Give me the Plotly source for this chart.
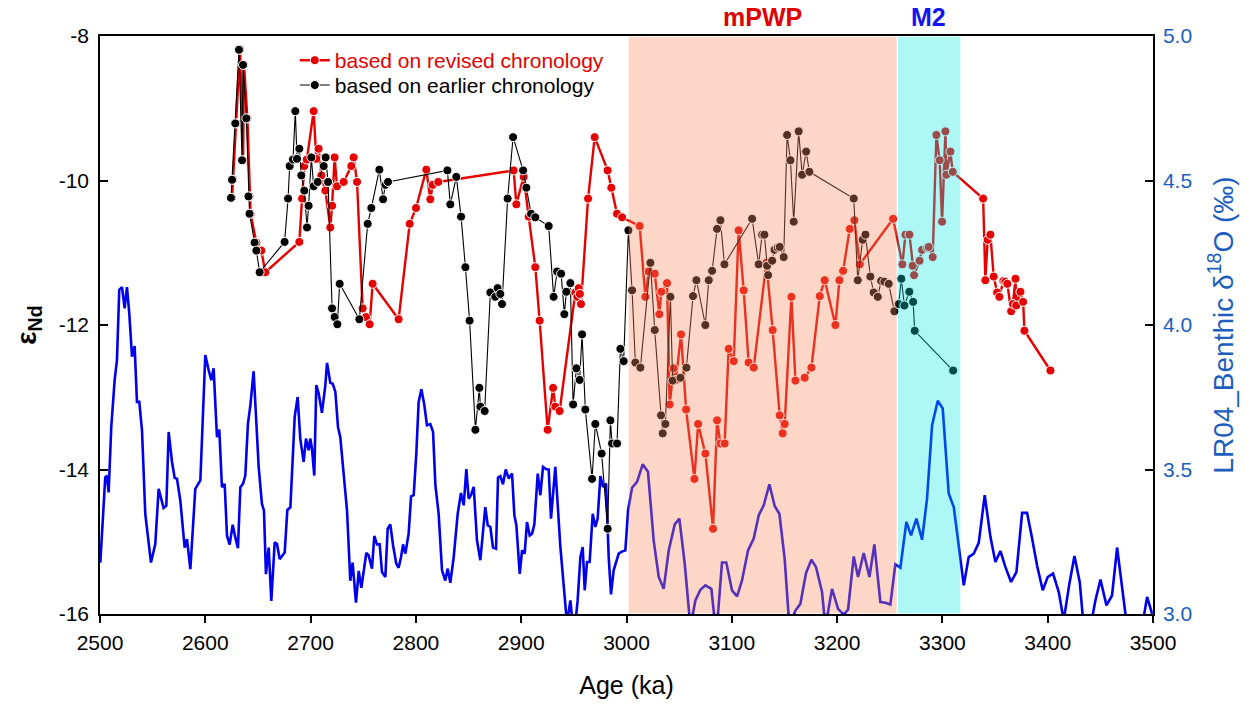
import plotly.graph_objects as go

# ---------------- data ----------------
# eNd values (same samples on two age models)
eps_nd = [
    -10.24, -9.99, -9.21, -8.19, -9.72, -8.40, -9.14, -10.22, -10.46, -10.86,
    -10.97, -11.27, -10.85, -10.25, -9.80, -9.71, -9.04, -9.70, -9.56, -9.93,
    -10.14, -10.65, -10.35, -9.68, -10.08, -10.02, -9.80, -9.68, -10.02, -11.77,
    -11.89, -11.99, -11.43, -11.92, -10.60, -10.38, -9.85, -10.26, -10.06, -10.02,
    -9.86, -10.33, -9.95, -10.50, -11.20, -11.94, -13.45, -12.87, -13.13, -13.19,
    -11.55, -11.61, -11.49, -11.57, -11.71, -10.25, -9.40, -9.86, -10.10, -10.46,
    -10.51, -10.63, -11.61, -11.26, -11.29, -11.85, -11.54, -11.42, -13.10, -12.60,
    -12.76, -12.13, -13.17, -14.13, -13.37, -13.78, -14.82, -13.32, -13.64, -13.64,
    -12.33, -12.50, -10.69, -11.52, -12.52, -12.59, -11.14, -12.07, -13.25, -13.50,
    -13.37, -11.61, -12.77, -12.73, -12.59, -11.60, -11.38, -12.00, -11.38, -11.25,
    -10.67, -10.55, -11.16, -10.53, -11.16, -10.75, -10.75, -11.18, -11.31, -11.11,
    -10.96, -10.93, -10.92, -11.06, -9.37, -9.72, -10.57, -9.32, -9.92, -9.60,
    -9.88, -10.25, -11.38, -10.82, -10.75, -11.33, -11.55, -11.61, -11.39, -11.40,
    -11.43, -11.81, -11.71, -11.36, -11.73, -11.54, -11.68, -12.08, -12.63,
]

age_earlier = [
    2624.4, 2625.4, 2628.5, 2632.0, 2634.9, 2635.8, 2639.0, 2641.0, 2642.0, 2646.8,
    2648.5, 2651.6, 2675.3, 2678.6, 2680.1, 2683.3, 2685.5, 2687.1, 2689.3, 2691.2,
    2694.0, 2696.6, 2698.1, 2700.7, 2702.9, 2706.7, 2712.4, 2714.3, 2716.6, 2720.4,
    2722.8, 2725.4, 2727.6, 2746.3, 2754.2, 2757.7, 2765.3, 2768.8, 2771.0, 2773.5,
    2829.9, 2832.7, 2838.4, 2842.9, 2847.0, 2851.0, 2856.5, 2860.3, 2861.2, 2865.3,
    2870.7, 2875.4, 2877.6, 2880.2, 2881.8, 2887.1, 2892.3, 2901.8, 2904.9, 2909.4,
    2913.4, 2926.1, 2930.8, 2934.1, 2937.9, 2941.0, 2942.9, 2946.7, 2949.3, 2952.4,
    2955.5, 2957.8, 2960.9, 2967.3, 2970.4, 2976.4, 2982.1, 2984.7, 2986.3, 2991.0,
    2994.2, 2997.3, 3001.8, 3005.3, 3008.4, 3013.2, 3022.7, 3026.8, 3032.8, 3034.4,
    3036.9, 3041.7, 3043.8, 3051.2, 3056.9, 3063.2, 3066.4, 3074.9, 3078.1, 3081.3,
    3086.0, 3089.2, 3093.0, 3119.3, 3125.5, 3128.8, 3130.9, 3133.5, 3134.5, 3138.3,
    3140.5, 3143.6, 3145.5, 3149.3, 3152.5, 3155.7, 3158.8, 3163.5, 3166.8, 3170.6,
    3173.7, 3215.8, 3219.6, 3224.3, 3226.9, 3231.6, 3234.8, 3238.6, 3241.8, 3244.9,
    3249.0, 3254.4, 3258.5, 3261.0, 3263.9, 3268.6, 3272.2, 3273.7, 3310.2,
]

age_revised = [
    2625.4, 2626.4, 2629.5, 2633.0, 2635.9, 2636.8, 2640.0, 2642.0, 2643.0, 2648.5,
    2653.2, 2657.0, 2689.3, 2691.9, 2694.0, 2696.4, 2702.9, 2705.4, 2707.6, 2710.2,
    2714.0, 2718.7, 2720.4, 2722.8, 2725.1, 2731.4, 2738.7, 2740.9, 2744.1, 2749.4,
    2752.6, 2756.1, 2758.9, 2783.6, 2794.1, 2800.1, 2809.9, 2813.7, 2815.9, 2821.3,
    2892.8, 2895.4, 2902.3, 2907.1, 2913.4, 2917.5, 2925.1, 2930.3, 2932.4, 2936.5,
    2951.4, 2953.3, 2954.6, 2955.7, 2956.8, 2963.5, 2969.8, 2982.1, 2985.6, 2991.0,
    2995.8, 3012.5, 3017.9, 3021.1, 3026.8, 3031.2, 3033.1, 3038.5, 3041.0, 3044.8,
    3046.9, 3051.8, 3056.6, 3064.5, 3068.0, 3074.9, 3082.2, 3086.0, 3089.2, 3093.2,
    3097.0, 3101.8, 3106.5, 3111.3, 3116.0, 3120.8, 3132.8, 3138.8, 3145.5, 3148.3,
    3150.2, 3156.6, 3160.4, 3169.2, 3175.6, 3183.5, 3188.2, 3198.4, 3202.2, 3205.7,
    3212.0, 3216.4, 3221.5, 3253.2, 3262.0, 3264.9, 3268.7, 3271.7, 3273.1, 3278.3,
    3280.7, 3285.5, 3287.0, 3290.8, 3294.3, 3297.4, 3299.7, 3302.9, 3303.8, 3307.6,
    3309.8, 3338.7, 3340.8, 3343.0, 3345.6, 3348.7, 3352.0, 3354.1, 3357.9, 3359.8,
    3361.7, 3365.3, 3367.0, 3369.4, 3370.1, 3374.1, 3376.7, 3377.9, 3402.6,
]

# LR04 benthic d18O stack
lr04_age = [
    2500.3, 2505.0, 2506.6, 2508.2, 2510.7, 2513.9, 2516.1, 2518.3, 2520.9, 2523.4,
    2525.6, 2527.8, 2530.4, 2532.9, 2535.1, 2537.3, 2539.9, 2543.0, 2548.4, 2552.5,
    2555.7, 2558.2, 2560.4, 2563.0, 2565.2, 2568.4, 2570.9, 2573.1, 2576.3, 2580.4,
    2582.6, 2585.8, 2590.5, 2595.3, 2600.0, 2603.2, 2605.7, 2607.9, 2611.1, 2613.3,
    2615.8, 2618.4, 2620.6, 2623.1, 2626.0, 2628.5, 2631.0, 2633.3, 2635.8, 2638.0,
    2640.5, 2642.8, 2645.9, 2650.7, 2653.8, 2655.7, 2657.6, 2660.2, 2662.7, 2665.9,
    2668.1, 2670.6, 2675.4, 2677.9, 2680.8, 2684.9, 2687.7, 2690.2, 2693.4, 2695.6,
    2698.2, 2699.7, 2701.3, 2703.5, 2705.4, 2707.7, 2710.8, 2714.0, 2715.6, 2718.7,
    2721.0, 2723.5, 2726.0, 2728.2, 2731.4, 2734.6, 2737.7, 2739.9, 2743.1, 2745.7,
    2748.2, 2752.9, 2755.1, 2758.3, 2760.5, 2763.1, 2765.6, 2767.8, 2771.0, 2773.2,
    2775.7, 2778.3, 2781.4, 2783.6, 2785.9, 2787.8, 2790.0, 2793.1, 2795.4, 2797.9,
    2800.4, 2802.6, 2805.2, 2808.0, 2810.5, 2813.7, 2816.3, 2818.5, 2821.6, 2824.8,
    2827.9, 2830.2, 2832.7, 2835.9, 2839.7, 2842.8, 2845.4, 2847.9, 2850.1, 2852.3,
    2854.9, 2858.0, 2861.2, 2863.7, 2865.9, 2868.2, 2870.7, 2873.2, 2876.1, 2878.0,
    2880.2, 2882.7, 2885.3, 2888.1, 2891.3, 2893.5, 2895.4, 2898.6, 2900.8, 2903.3,
    2905.5, 2908.1, 2910.3, 2912.5, 2915.7, 2918.2, 2920.7, 2923.9, 2926.1, 2928.3,
    2932.4, 2937.2, 2941.0, 2943.5, 2946.7, 2948.9, 2951.4, 2953.6, 2956.2, 2958.4,
    2960.3, 2962.5, 2965.0, 2967.9, 2970.4, 2972.6, 2975.2, 2977.7, 2980.6, 2983.1,
    2985.3, 2987.8, 2992.6, 2995.1, 2998.9, 3001.5, 3005.3, 3010.0, 3015.4, 3020.4,
    3025.8, 3030.6, 3035.3, 3040.1, 3045.8, 3050.2, 3055.3, 3060.7, 3065.4, 3070.2,
    3074.9, 3080.6, 3084.4, 3086.9, 3090.7, 3094.8, 3100.2, 3105.0, 3109.7, 3115.4,
    3120.8, 3125.6, 3130.3, 3135.7, 3140.8, 3145.2, 3150.2, 3154.7, 3160.4, 3165.1,
    3170.5, 3175.6, 3180.0, 3185.7, 3188.9, 3195.2, 3200.9, 3206.3, 3210.4, 3215.8,
    3219.9, 3225.3, 3230.7, 3235.4, 3241.1, 3245.9, 3250.6, 3255.3, 3260.1, 3265.8,
    3270.2, 3275.3, 3280.7, 3285.4, 3290.2, 3295.6, 3300.3, 3306.0, 3310.8, 3315.5,
    3320.3, 3325.0, 3329.8, 3334.5, 3340.2, 3345.6, 3350.3, 3355.1, 3359.8, 3365.2,
    3370.3, 3375.7, 3380.4, 3385.2, 3389.9, 3395.3, 3400.0, 3405.1, 3410.5, 3415.2,
    3420.6, 3425.4, 3430.4, 3434.2, 3440.6, 3445.3, 3450.1, 3455.8, 3461.1, 3465.9,
    3471.3, 3475.4, 3484.9, 3489.6, 3494.4, 3499.1,
]
lr04_d18o = [
    3.178, 3.473, 3.479, 3.421, 3.647, 3.809, 3.878, 4.122, 4.131, 4.058,
    4.131, 4.041, 3.890, 3.927, 3.734, 3.734, 3.635, 3.346, 3.178, 3.242,
    3.433, 3.392, 3.367, 3.375, 3.630, 3.526, 3.471, 3.468, 3.392, 3.230,
    3.259, 3.155, 3.433, 3.462, 3.896, 3.844, 3.809, 3.850, 3.612, 3.638,
    3.439, 3.450, 3.271, 3.240, 3.309, 3.265, 3.228, 3.439, 3.450, 3.479,
    3.659, 3.722, 3.840, 3.508, 3.381, 3.358, 3.138, 3.230, 3.045, 3.248,
    3.242, 3.190, 3.213, 3.360, 3.369, 3.682, 3.751, 3.607, 3.526, 3.607,
    3.566, 3.607, 3.572, 3.479, 3.792, 3.763, 3.696, 3.792, 3.869, 3.800,
    3.797, 3.769, 3.647, 3.612, 3.473, 3.358, 3.115, 3.178, 3.039, 3.149,
    3.091, 3.211, 3.203, 3.157, 3.270, 3.241, 3.241, 3.145, 3.128, 3.295,
    3.310, 3.238, 3.174, 3.160, 3.197, 3.241, 3.209, 3.278, 3.407, 3.411,
    3.555, 3.734, 3.778, 3.723, 3.653, 3.657, 3.630, 3.446, 3.347, 3.151,
    3.116, 3.157, 3.108, 3.197, 3.347, 3.419, 3.376, 3.501, 3.399, 3.411,
    3.440, 3.255, 3.186, 3.272, 3.370, 3.307, 3.301, 3.230, 3.226, 3.472,
    3.477, 3.449, 3.500, 3.469, 3.486, 3.342, 3.307, 3.139, 3.220, 3.209,
    3.318, 3.272, 3.278, 3.310, 3.486, 3.411, 3.509, 3.501, 3.500, 3.330,
    3.509, 3.232, 3.059, 2.966, 3.047, 2.966, 2.966, 3.047, 3.197, 3.232,
    3.082, 3.180, 3.180, 3.347, 3.301, 3.330, 3.477, 3.440, 3.451, 3.197,
    3.068, 3.151, 3.209, 3.215, 3.220, 3.359, 3.437, 3.457, 3.518, 3.492,
    3.255, 3.128, 3.087, 3.220, 3.310, 3.330, 3.174, 2.955, 3.047, 3.084,
    3.099, 3.087, 2.955, 3.001, 3.178, 3.178, 3.082, 3.061, 3.116, 3.220,
    3.261, 3.342, 3.376, 3.449, 3.373, 3.347, 3.191, 2.955, 3.012, 3.035,
    3.142, 3.188, 3.162, 3.076, 2.955, 3.087, 3.018, 2.998, 3.015, 3.199,
    3.128, 3.211, 3.128, 3.241, 3.041, 3.039, 3.033, 3.172, 3.160, 3.319,
    3.272, 3.330, 3.257, 3.399, 3.653, 3.738, 3.711, 3.417, 3.370, 3.232,
    3.099, 3.197, 3.209, 3.246, 3.411, 3.267, 3.180, 3.218, 3.163, 3.111,
    3.145, 3.350, 3.350, 3.261, 3.168, 3.082, 3.128, 3.140, 3.076, 2.978,
    3.105, 3.201, 3.111, 2.955, 2.955, 3.047, 3.119, 3.030, 3.064, 3.230,
    3.070, 2.955, 2.930, 2.955, 3.059, 3.001,
]

x_ticks = [2500, 2600, 2700, 2800, 2900, 3000, 3100, 3200, 3300, 3400, 3500]
eps_ticks = [-16, -14, -12, -10, -8]
eps_tick_labels = ["-16", "-14", "-12", "-10", "-8"]
d18o_ticks = [3.0, 3.5, 4.0, 4.5, 5.0]
d18o_tick_labels = ["3.0", "3.5", "4.0", "4.5", "5.0"]

mpwp_interval = [3002, 3256.5]
m2_interval = [3257.8, 3317]

RED = "#E60000"
BLUE = "#0000EE"
AXBLUE = "#1C5DBE"
FONT = "Liberation Sans, Arial, sans-serif"

fig = go.Figure()

fig.add_trace(go.Scatter(
    x=lr04_age, y=lr04_d18o, mode="lines", yaxis="y",
    line=dict(color=BLUE, width=2.6), showlegend=False, hoverinfo="skip",
))
fig.add_trace(go.Scatter(
    x=age_revised, y=eps_nd, mode="lines+markers", yaxis="y2",
    name='<span style="color:#E60000">based on revised chronology</span>',
    line=dict(color=RED, width=2.4), legend="legend",
    marker=dict(size=9, color=RED, line=dict(color="white", width=1)),
))
fig.add_trace(go.Scatter(
    x=age_earlier, y=eps_nd, mode="lines+markers", yaxis="y2",
    name="based on earlier chronology", legend="legend2",
    line=dict(color="black", width=1.1),
    marker=dict(size=9, color="black", line=dict(color="white", width=1)),
))

fig.add_shape(type="rect", xref="x", yref="paper",
              x0=mpwp_interval[0], x1=mpwp_interval[1], y0=0.0015, y1=0.9985,
              fillcolor="rgb(245,140,95)", opacity=0.35, line_width=0, layer="above")
fig.add_shape(type="rect", xref="x", yref="paper",
              x0=m2_interval[0], x1=m2_interval[1], y0=0.0015, y1=0.9985,
              fillcolor="rgb(0,230,230)", opacity=0.32, line_width=0, layer="above")

fig.add_annotation(x=3129, y=1.033, xref="x", yref="paper", yanchor="middle",
                   text="<b>mPWP</b>", showarrow=False,
                   font=dict(size=25, color="#E00000", family=FONT))
fig.add_annotation(x=3287, y=1.033, xref="x", yref="paper", yanchor="middle",
                   text="<b>M2</b>", showarrow=False,
                   font=dict(size=25, color="#1515F0", family=FONT))

fig.update_layout(
    width=1256, height=704,
    margin=dict(l=100, r=103, t=36, b=90, autoexpand=False),
    paper_bgcolor="white", plot_bgcolor="white",
    font=dict(family=FONT, size=18, color="black"),
    xaxis=dict(
        range=[2500, 3500], tickvals=x_ticks, ticks="outside", ticklen=7,
        tickwidth=1.5, tickcolor="black", showline=True, linecolor="black",
        linewidth=1.5, mirror=True, showgrid=False, zeroline=False,
        tickfont=dict(size=21), ticklabelstandoff=2, automargin=False,
        title=dict(text="Age (ka)", font=dict(size=25), standoff=24),
    ),
    yaxis=dict(
        side="right", range=[3, 5], tickvals=d18o_ticks, ticktext=d18o_tick_labels,
        ticks="inside", ticklen=8, tickwidth=1.5, tickcolor="black",
        showline=True, linecolor="black", linewidth=1.5,
        showgrid=False, zeroline=False, ticklabelstandoff=4, automargin=False,
        tickfont=dict(size=21, color=AXBLUE),
        title=dict(text="LR04_Benthic δ<sup>18</sup>O (‰)",
                   font=dict(size=28, color=AXBLUE), standoff=22),
    ),
    yaxis2=dict(
        overlaying="y", side="left", range=[-16, -8],
        tickvals=eps_ticks, ticktext=eps_tick_labels,
        ticks="inside", ticklen=8, tickwidth=1.5, tickcolor="black",
        showline=True, linecolor="black", linewidth=1.5, automargin=False,
        showgrid=False, zeroline=False, tickfont=dict(size=21), ticklabelstandoff=5,
        title=dict(text="<b>ε<sub>Nd</sub></b>", font=dict(size=28), standoff=14),
    ),
    legend=dict(x=0.185, y=0.993, xanchor="left", yanchor="top",
                bgcolor="rgba(0,0,0,0)", font=dict(size=21)),
    legend2=dict(x=0.185, y=0.950, xanchor="left", yanchor="top",
                 bgcolor="rgba(0,0,0,0)", font=dict(size=21)),
)

fig.write_html("out.html")
